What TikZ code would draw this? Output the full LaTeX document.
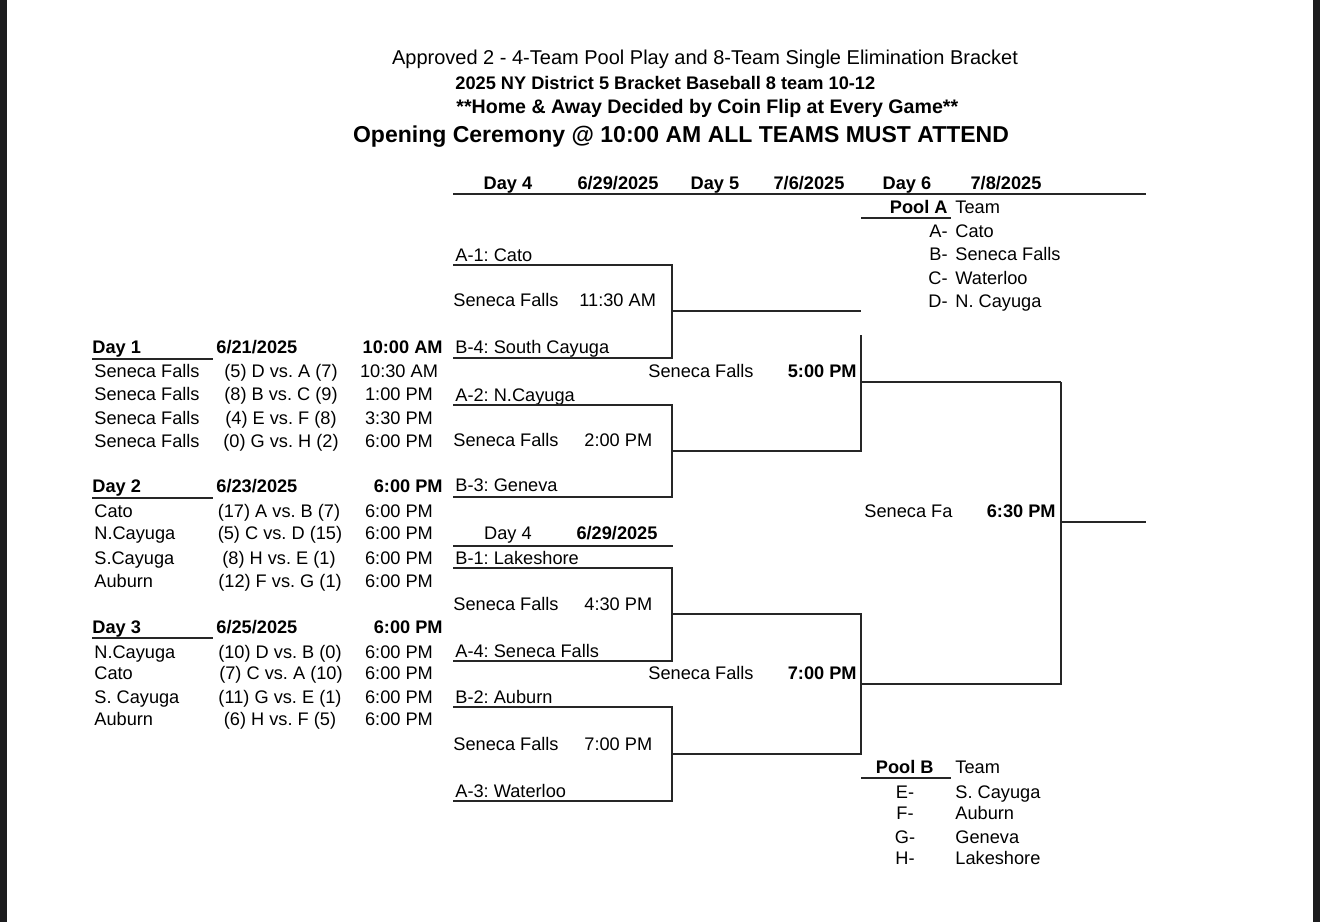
\documentclass[tikz,border=0pt]{standalone}
\usepackage{fontspec}
\setmainfont{Liberation Sans}
\usepackage{tikz}
\frenchspacing
\definecolor{edge}{HTML}{1C1C1E}
\tikzset{
  txt/.style={anchor=base west,inner sep=0pt,font=\fontsize{9.1}{11}\selectfont},
  bld/.style={txt,font=\fontsize{9.1}{11}\selectfont\bfseries},
  brk/.style={line width=0.75pt,color=black!85}
}
\begin{document}
\begin{tikzpicture}[x=0.5pt,y=-0.5pt]
\useasboundingbox (0,0) rectangle (1320,922);
\fill[white] (0,0) rectangle (1320,922);
\fill[edge] (0,0) rectangle (7,922);
\fill[edge] (1313,0) rectangle (1320,922);
\node[txt,anchor=base,font=\fontsize{10}{12}\selectfont] (ttlA) at (705,64) {Approved 2 - 4-Team Pool Play and 8-Team Single Elimination Bracket};
\node[bld] (ttlB) at (455,89) {2025 NY District 5 Bracket Baseball 8 team 10-12};
\node[bld,font=\fontsize{9.8}{12}\selectfont\bfseries] (ttlC) at (456,113) {**Home \& Away Decided by Coin Flip at Every Game**};
\node[bld,anchor=base,font=\fontsize{11.5}{14}\selectfont\bfseries] (ttlD) at (681,142) {Opening Ceremony @ 10:00 AM ALL TEAMS MUST ATTEND};
\node[bld,anchor=base] (hdDayFour) at (508,189) {Day 4};
\node[bld,anchor=base] (hdDateFour) at (618,189) {6/29/2025};
\node[bld,anchor=base] (hdDayFive) at (715,189) {Day 5};
\node[bld,anchor=base] (hdDateFive) at (809,189) {7/6/2025};
\node[bld,anchor=base] (hdDaySix) at (907,189) {Day 6};
\node[bld,anchor=base] (hdDateSix) at (1006,189) {7/8/2025};
\draw[brk] (453,194) -- (1146,194);
\node[bld,anchor=base east] (poolA) at (948,213) {Pool A};
\node[txt] (poolAteam) at (955,213) {Team};
\draw[brk] (861,218) -- (951,218);
\node[txt,anchor=base east] (pA1) at (948,237) {A-};
\node[txt] (tA1) at (955,237) {Cato};
\node[txt,anchor=base east] (pA2) at (948,260) {B-};
\node[txt] (tA2) at (955,260) {Seneca Falls};
\node[txt,anchor=base east] (pA3) at (948,284) {C-};
\node[txt] (tA3) at (955,284) {Waterloo};
\node[txt,anchor=base east] (pA4) at (948,307) {D-};
\node[txt] (tA4) at (955,307) {N. Cayuga};
\node[bld] (dOne) at (92,353) {Day 1};
\draw[brk] (92,359) -- (213,359);
\node[bld] (dOneDate) at (216,353) {6/21/2025};
\node[bld,anchor=base east] (dOneTime) at (443,353) {10:00 AM};
\node[txt] (dOneTa) at (94,377) {Seneca Falls};
\node[txt,anchor=base] (dOneGa) at (281,377) {(5) D vs. A (7)};
\node[txt,anchor=base] (dOneHa) at (399,377) {10:30 AM};
\node[txt] (dOneTb) at (94,400) {Seneca Falls};
\node[txt,anchor=base] (dOneGb) at (281,400) {(8) B vs. C (9)};
\node[txt,anchor=base] (dOneHb) at (399,400) {1:00 PM};
\node[txt] (dOneTc) at (94,424) {Seneca Falls};
\node[txt,anchor=base] (dOneGc) at (281,424) {(4) E vs. F (8)};
\node[txt,anchor=base] (dOneHc) at (399,424) {3:30 PM};
\node[txt] (dOneTd) at (94,447) {Seneca Falls};
\node[txt,anchor=base] (dOneGd) at (281,447) {(0) G vs. H (2)};
\node[txt,anchor=base] (dOneHd) at (399,447) {6:00 PM};
\node[bld] (dTwo) at (92,492) {Day 2};
\draw[brk] (92,498) -- (213,498);
\node[bld] (dTwoDate) at (216,492) {6/23/2025};
\node[bld,anchor=base east] (dTwoTime) at (443,492) {6:00 PM};
\node[txt] (dTwoTa) at (94,517) {Cato};
\node[txt,anchor=base] (dTwoGa) at (279,517) {(17) A vs. B (7)};
\node[txt,anchor=base] (dTwoHa) at (399,517) {6:00 PM};
\node[txt] (dTwoTb) at (94,539) {N.Cayuga};
\node[txt,anchor=base] (dTwoGb) at (280,539) {(5) C vs. D (15)};
\node[txt,anchor=base] (dTwoHb) at (399,539) {6:00 PM};
\node[txt] (dTwoTc) at (94,564) {S.Cayuga};
\node[txt,anchor=base] (dTwoGc) at (279,564) {(8) H vs. E (1)};
\node[txt,anchor=base] (dTwoHc) at (399,564) {6:00 PM};
\node[txt] (dTwoTd) at (94,587) {Auburn};
\node[txt,anchor=base] (dTwoGd) at (280,587) {(12) F vs. G (1)};
\node[txt,anchor=base] (dTwoHd) at (399,587) {6:00 PM};
\node[bld] (dThree) at (92,633) {Day 3};
\draw[brk] (92,638) -- (213,638);
\node[bld] (dThreeDate) at (216,633) {6/25/2025};
\node[bld,anchor=base east] (dThreeTime) at (443,633) {6:00 PM};
\node[txt] (dThreeTa) at (94,658) {N.Cayuga};
\node[txt,anchor=base] (dThreeGa) at (280,658) {(10) D vs. B (0)};
\node[txt,anchor=base] (dThreeHa) at (399,658) {6:00 PM};
\node[txt] (dThreeTb) at (94,679) {Cato};
\node[txt,anchor=base] (dThreeGb) at (281,679) {(7) C vs. A (10)};
\node[txt,anchor=base] (dThreeHb) at (399,679) {6:00 PM};
\node[txt] (dThreeTc) at (94,703) {S. Cayuga};
\node[txt,anchor=base] (dThreeGc) at (280,703) {(11) G vs. E (1)};
\node[txt,anchor=base] (dThreeHc) at (399,703) {6:00 PM};
\node[txt] (dThreeTd) at (94,725) {Auburn};
\node[txt,anchor=base] (dThreeGd) at (280,725) {(6) H vs. F (5)};
\node[txt,anchor=base] (dThreeHd) at (399,725) {6:00 PM};
\node[txt] (sA1) at (455,261) {A-1: Cato};
\node[txt] (gOneSite) at (453,306) {Seneca Falls};
\node[txt] (gOneTime) at (579,306) {11:30 AM};
\node[txt] (sB4) at (455,353) {B-4: South Cayuga};
\draw[brk] (453,265) -- (672,265) -- (672,358) -- (453,358);
\draw[brk] (672,311) -- (861,311);
\node[txt] (sA2) at (455,401) {A-2: N.Cayuga};
\node[txt] (gTwoSite) at (453,446) {Seneca Falls};
\node[txt] (gTwoTime) at (584,446) {2:00 PM};
\node[txt] (sB3) at (455,491) {B-3: Geneva};
\draw[brk] (453,405) -- (672,405) -- (672,497) -- (453,497);
\draw[brk] (672,451) -- (861,451) -- (861,335);
\node[txt] (sfOneSite) at (648,377) {Seneca Falls};
\node[bld,anchor=base east] (sfOneTime) at (857,377) {5:00 PM};
\draw[brk] (861,382) -- (1061,382);
\node[txt,anchor=base] (lwDay) at (508,539) {Day 4};
\node[bld,anchor=base] (lwDate) at (617,539) {6/29/2025};
\draw[brk] (453,546) -- (673,546);
\node[txt] (sB1) at (455,564) {B-1: Lakeshore};
\node[txt] (gThreeSite) at (453,610) {Seneca Falls};
\node[txt] (gThreeTime) at (584,610) {4:30 PM};
\node[txt] (sA4) at (455,657) {A-4: Seneca Falls};
\draw[brk] (453,568) -- (672,568) -- (672,661) -- (453,661);
\node[txt] (sB2) at (455,703) {B-2: Auburn};
\node[txt] (gFourSite) at (453,750) {Seneca Falls};
\node[txt] (gFourTime) at (584,750) {7:00 PM};
\node[txt] (sA3) at (455,797) {A-3: Waterloo};
\draw[brk] (453,707) -- (672,707) -- (672,801) -- (453,801);
\draw[brk] (672,614) -- (861,614) -- (861,754) -- (672,754);
\node[txt] (sfTwoSite) at (648,679) {Seneca Falls};
\node[bld,anchor=base east] (sfTwoTime) at (857,679) {7:00 PM};
\draw[brk] (861,684) -- (1061,684) -- (1061,382);
\node[txt] (finSite) at (864,517) {Seneca Fa};
\node[bld,anchor=base east] (finTime) at (1056,517) {6:30 PM};
\draw[brk] (1061,522) -- (1146,522);
\node[bld,anchor=base east] (poolB) at (934,773) {Pool B};
\node[txt] (poolBteam) at (955,773) {Team};
\draw[brk] (861,778) -- (951,778);
\node[txt,anchor=base] (pB1) at (905,798) {E-};
\node[txt] (tB1) at (955,798) {S. Cayuga};
\node[txt,anchor=base] (pB2) at (905,819) {F-};
\node[txt] (tB2) at (955,819) {Auburn};
\node[txt,anchor=base] (pB3) at (905,843) {G-};
\node[txt] (tB3) at (955,843) {Geneva};
\node[txt,anchor=base] (pB4) at (905,864) {H-};
\node[txt] (tB4) at (955,864) {Lakeshore};
\end{tikzpicture}
\end{document}
